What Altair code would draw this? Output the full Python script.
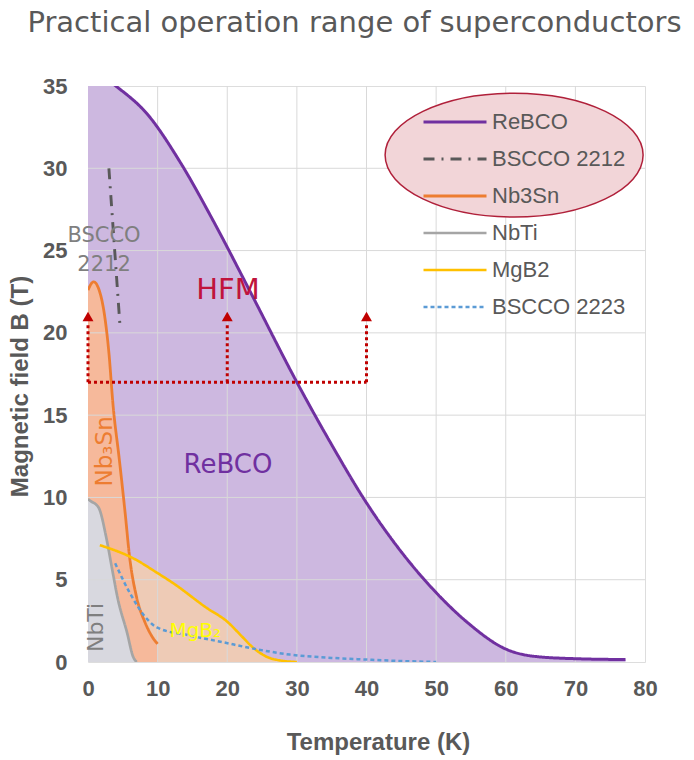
import altair as alt
import pandas as pd

TITLE = "Practical operation range of superconductors"
X_TITLE = "Temperature (K)"
Y_TITLE = "Magnetic field B (T)"

SERIES = ["ReBCO", "BSCCO 2212", "Nb3Sn", "NbTi", "MgB2", "BSCCO 2223"]
LINE_COLORS = ["#7030A0", "#595959", "#ED7D31", "#A5A5A5", "#FFC000", "#5B9BD5"]
LINE_WIDTHS = [3, 2.5, 2.5, 2.5, 3, 1.5]
LINE_DASHES = [[1, 0], [11, 7, 2, 7], [1, 0], [1, 0], [1, 0], [4, 3]]

REBCO_T = [0, 4, 8.5, 13.2, 18, 23.3, 30, 35, 39.8, 44.8, 49.6, 54.5, 60.2, 64, 70, 77.2]
REBCO_B = [36.2, 35.0, 33.3, 30.4, 26.8, 22.5, 17.0, 13.2, 9.8, 6.8, 4.4, 2.4, 0.75, 0.35, 0.2, 0.15]

BSCCO2212_T = [3.0, 3.5, 4.0, 4.6]
BSCCO2212_B = [30.0, 27.0, 24.0, 20.4]

NB3SN_T = [0, 0.8, 1.6, 2.4, 3.0, 3.6, 4.5, 5.3, 6.0, 7.0, 8.2, 9.6, 10.0]
NB3SN_B = [22.6, 23.1, 22.6, 21.0, 18.8, 15.6, 12.3, 9.2, 6.3, 3.9, 2.4, 1.3, 1.1]

NBTI_T = [0, 0.3, 1.5, 2.7, 3.4, 4.3, 5.6, 6.5, 7.0]
NBTI_B = [9.9, 9.8, 9.4, 7.4, 5.8, 3.8, 1.8, 0.3, 0.0]

MGB2_T = [1.7, 6.5, 10, 12.2, 17, 20, 22, 23.5, 25.5, 27.5, 30]
MGB2_B = [7.1, 6.3, 5.4, 4.8, 3.3, 2.45, 1.6, 0.95, 0.35, 0.1, 0.0]

BSCCO2223_T = [3.9, 6.0, 8.5, 9.9, 14.7, 19.4, 23.3, 29, 35, 40, 45, 50]
BSCCO2223_B = [6.0, 4.2, 2.6, 2.1, 1.6, 1.2, 0.85, 0.45, 0.25, 0.15, 0.06, 0.0]

X_TICKS = [0, 10, 20, 30, 40, 50, 60, 70, 80]
Y_TICKS = [0, 5, 10, 15, 20, 25, 30, 35]

# HFM operating-range arrows
HFM_T = [0, 20, 40]
HFM_BASE = 17.0
HFM_TOP = 20.6
HFM_TIP = 21.0

# annotation texts (text, T, B)
ANNOT_TEXT = ["BSCCO", "2212", "HFM", "ReBCO", "Nb₃Sn", "NbTi", "MgB₂"]
ANNOT_T = [2.3, 2.3, 20.1, 20.1, 2.4, 1.15, 15.4]
ANNOT_B = [25.9, 24.1, 22.6, 12.0, 12.8, 2.1, 1.9]
ANNOT_COLOR = ["#7F7F7F", "#7F7F7F", "#C0143C", "#7030A0", "#ED7D31", "#7F7F7F", "#FFFF00"]
ANNOT_SIZE = [21, 21, 29, 26, 23, 22, 20]
ANNOT_ANGLE = [0, 0, 0, 0, 270, 270, 0]

# highlight ellipse around the first three legend entries (centre in data units)
ELLIPSE_T = [61.2]
ELLIPSE_B = [30.8]

series_data = [
    ("ReBCO", REBCO_T, REBCO_B),
    ("BSCCO 2212", BSCCO2212_T, BSCCO2212_B),
    ("Nb3Sn", NB3SN_T, NB3SN_B),
    ("NbTi", NBTI_T, NBTI_B),
    ("MgB2", MGB2_T, MGB2_B),
    ("BSCCO 2223", BSCCO2223_T, BSCCO2223_B),
]
rows = []
for name, ts, bs in series_data:
    for t, b in zip(ts, bs):
        rows.append({"series": name, "T": t, "B": b})
lines_df = pd.DataFrame(rows)

xs = alt.Scale(domain=[0, 80], nice=False, zero=False)
ys = alt.Scale(domain=[0, 35], nice=False)

x_axis = alt.Axis(values=X_TICKS, title=X_TITLE, grid=False, domain=False, ticks=False,
                  labelFontSize=22, labelFontWeight="bold", labelColor="#595959",
                  labelFont="Liberation Sans", labelPadding=16, labelFlush=False,
                  titleFontSize=24, titleFontWeight="bold", titleColor="#595959",
                  titleFont="Liberation Sans", titlePadding=31, titleX=290)
y_axis = alt.Axis(values=Y_TICKS, title=Y_TITLE, grid=False, domain=False, ticks=False,
                  labelFontSize=22, labelFontWeight="bold", labelColor="#595959",
                  labelFont="Liberation Sans", labelPadding=21,
                  titleFontSize=24, titleFontWeight="bold", titleColor="#595959",
                  titleFont="Liberation Sans", titlePadding=10, titleY=300)


def area(ts, bs, color):
    df = pd.DataFrame({"T": ts, "B": bs})
    return alt.Chart(df).mark_area(color=color, opacity=1, interpolate="monotone", clip=True).encode(
        x=alt.X("T:Q", scale=xs, axis=x_axis),
        y=alt.Y("B:Q", scale=ys, axis=y_axis),
    )


fills = [
    area(REBCO_T, REBCO_B, "#CDB8E0"),
    area(MGB2_T, MGB2_B, "#EECBB6"),
    area(NB3SN_T, NB3SN_B, "#F6B99B"),
    area(NBTI_T, NBTI_B, "#D8D8DF"),
]

grid_x = alt.Chart(pd.DataFrame({"T": X_TICKS[1:-1]})).mark_rule(color="#D9D9D9", strokeWidth=1).encode(
    x=alt.X("T:Q", scale=xs))
grid_y = alt.Chart(pd.DataFrame({"B": Y_TICKS[1:-1]})).mark_rule(color="#D9D9D9", strokeWidth=1).encode(
    y=alt.Y("B:Q", scale=ys))

ellipse = alt.Chart(pd.DataFrame({"T": ELLIPSE_T, "B": ELLIPSE_B})).mark_point(
    shape="M -1 0 A 1 0.48 0 1 0 1 0 A 1 0.48 0 1 0 -1 0 Z",
    size=66564, filled=True, fill="#F2D5D8", stroke="#B0203A", strokeWidth=1.5, opacity=1,
).encode(x=alt.X("T:Q", scale=xs), y=alt.Y("B:Q", scale=ys))

legend = alt.Legend(title=None, orient="none", legendX=334, legendY=21, symbolType="stroke",
                    symbolSize=3969, symbolStrokeWidth=2.5, clipHeight=30, rowPadding=7,
                    labelFontSize=22, labelColor="#595959", labelFont="Liberation Sans",
                    labelOffset=4, padding=0, labelLimit=300)

lines = alt.Chart(lines_df).mark_line(interpolate="monotone", clip=True).encode(
    x=alt.X("T:Q", scale=xs),
    y=alt.Y("B:Q", scale=ys),
    color=alt.Color("series:N", scale=alt.Scale(domain=SERIES, range=LINE_COLORS), legend=legend),
    strokeDash=alt.StrokeDash("series:N", scale=alt.Scale(domain=SERIES, range=LINE_DASHES), legend=legend),
    strokeWidth=alt.StrokeWidth("series:N", scale=alt.Scale(domain=SERIES, range=LINE_WIDTHS), legend=None),
)

hfm_h = alt.Chart(pd.DataFrame({"T0": [HFM_T[0]], "T1": [HFM_T[-1]], "B": [HFM_BASE]})).mark_rule(
    color="#C00000", strokeWidth=3, strokeDash=[3, 3]).encode(
    x=alt.X("T0:Q", scale=xs), x2="T1:Q", y=alt.Y("B:Q", scale=ys))
hfm_v = alt.Chart(pd.DataFrame({"T": HFM_T, "B0": [HFM_BASE] * 3, "B1": [HFM_TOP] * 3})).mark_rule(
    color="#C00000", strokeWidth=3, strokeDash=[3, 3]).encode(
    x=alt.X("T:Q", scale=xs), y=alt.Y("B0:Q", scale=ys), y2="B1:Q")
hfm_tip = alt.Chart(pd.DataFrame({"T": HFM_T, "B": [HFM_TIP] * 3})).mark_point(
    shape="triangle-up", filled=True, color="#C00000", size=120, opacity=1).encode(
    x=alt.X("T:Q", scale=xs), y=alt.Y("B:Q", scale=ys))

texts = []
for txt, t, b, c, s, a in zip(ANNOT_TEXT, ANNOT_T, ANNOT_B, ANNOT_COLOR, ANNOT_SIZE, ANNOT_ANGLE):
    df = pd.DataFrame({"label": [txt], "T": [t], "B": [b]})
    texts.append(alt.Chart(df).mark_text(font="DejaVu Sans", fontSize=s, color=c, angle=a,
                                         align="center", baseline="middle").encode(
        x=alt.X("T:Q", scale=xs), y=alt.Y("B:Q", scale=ys), text="label:N"))

chart = alt.layer(*fills, grid_x, grid_y, ellipse, lines, hfm_h, hfm_v, hfm_tip, *texts).properties(
    width=557, height=576,
    padding={"left": 88, "top": 86, "right": 49, "bottom": 98},
    autosize=alt.AutoSizeParams(type="none"),
    title=alt.TitleParams(TITLE, font="DejaVu Sans", fontSize=29, fontWeight="normal",
                          color="#595959", anchor="middle", frame="group", dx=-12, offset=37),
).configure_view(stroke="#7F7F7F", strokeWidth=2).configure(background="white")

chart.save("out.html", embed_options={"renderer": "svg", "actions": False})
